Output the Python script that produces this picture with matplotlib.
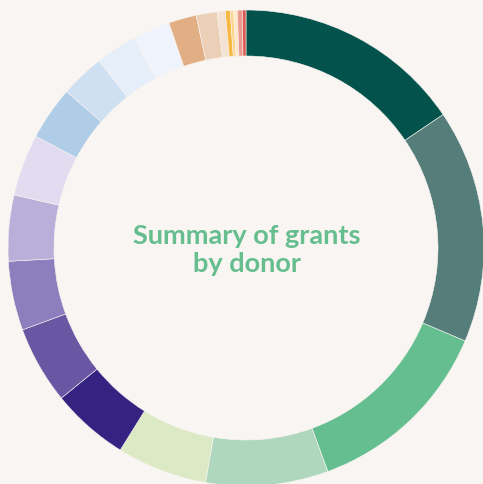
import matplotlib
matplotlib.use("Agg")
import matplotlib.pyplot as plt

# Donor shares (degrees of the ring, clockwise from 12 o'clock)
donors = [f"Donor {i+1}" for i in range(22)]
shares = [55.9, 57.1, 46.9, 29.9, 22.1, 19.0, 19.0, 16.9, 16.1, 15.1, 13.1,
          10.8, 10.1, 9.1, 6.8, 5.1, 2.0, 1.2, 0.8, 0.9, 1.2, 0.9]
colors = ["#03524c", "#557e7a", "#65be8f", "#afd7be", "#dbeac5",
          "#352381", "#6a56a3", "#8d7fbd", "#b8b0d8", "#e1dcef",
          "#b0cde8", "#d0e0f3", "#e6eef9", "#eff4fc",
          "#e2ae84", "#eccfb7", "#f4e2d5",
          "#f6b944", "#fcd48b", "#fde9c8", "#ec9a90", "#dc5a51"]
title = "Summary of grants\nby donor"

bg = "#f9f5f2"
W, H = 483, 484
fig = plt.figure(figsize=(W / 100, H / 100), dpi=100, facecolor=bg)
ax = fig.add_axes([0, 0, 1, 1])
ax.set_facecolor(bg)

cx, cy = 246, H - 248
R, width = 238, 46
ax.pie(shares, colors=colors, startangle=90, counterclock=False,
       center=(cx, cy), radius=R,
       wedgeprops=dict(width=width, edgecolor=bg, linewidth=0.4))
ax.set_xlim(0, W)
ax.set_ylim(0, H)
ax.set_aspect("auto")
ax.axis("off")

ax.text(cx + 1, cy - 2, title, ha="center", va="center", fontsize=19.5,
        fontweight="bold", family=["Lato", "DejaVu Sans"], color="#66be8f",
        linespacing=1.25)

fig.savefig("out.png", dpi=100, facecolor=bg)
